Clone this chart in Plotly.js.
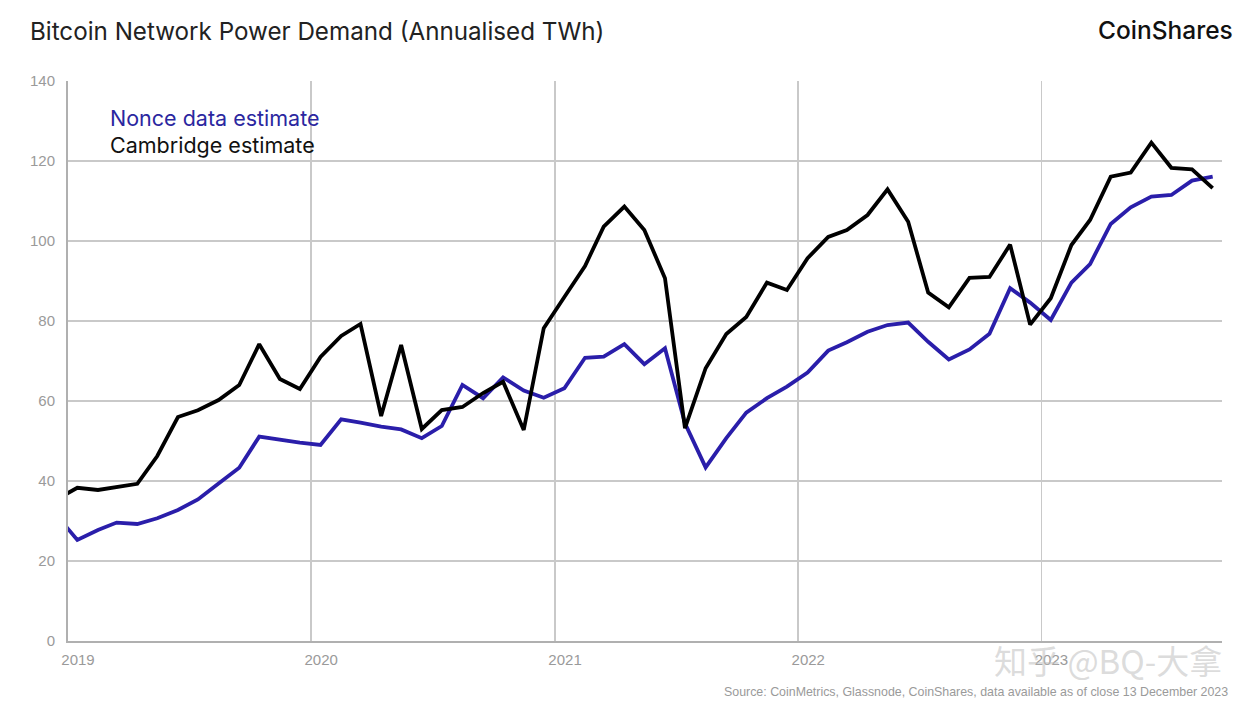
<!DOCTYPE html>
<html>
<head>
<meta charset="utf-8">
<script src="https://cdn.plot.ly/plotly-3.0.1.min.js"></script>
<style>html,body{margin:0;padding:0;background:#fff;}#chart{width:1260px;height:709px;}</style>
</head>
<body>
<div id="chart"></div>
<script>
// Monthly observations (mid-month)
const months = [
  "2018-12",
  "2019-01","2019-02","2019-03","2019-04","2019-05","2019-06","2019-07","2019-08","2019-09","2019-10","2019-11","2019-12",
  "2020-01","2020-02","2020-03","2020-04","2020-05","2020-06","2020-07","2020-08","2020-09","2020-10","2020-11","2020-12",
  "2021-01","2021-02","2021-03","2021-04","2021-05","2021-06","2021-07","2021-08","2021-09","2021-10","2021-11","2021-12",
  "2022-01","2022-02","2022-03","2022-04","2022-05","2022-06","2022-07","2022-08","2022-09","2022-10","2022-11","2022-12",
  "2023-01","2023-02","2023-03","2023-04","2023-05","2023-06","2023-07","2023-08","2023-09"
];
const cambridge = [
  35.4,
  38.3,37.75,38.4,39.3,46.25,56,57.7,60.25,64,74.2,65.5,63,
  71,76.25,79.25,56.25,74,53,57.75,58.5,62,64.8,52.75,78.2,
  86,93.75,103.6,108.6,102.75,90.7,53.2,68.2,76.75,81,89.6,87.75,
  95.7,101,102.75,106.5,112.9,104.8,87.1,83.4,90.8,91,99.1,79.1,
  85.7,99,105.25,116.1,117.1,124.6,118.3,117.9,113.2
];
const nonce = [
  31.4,
  25.25,27.75,29.6,29.25,30.7,32.75,35.4,39.4,43.3,51.1,50.25,49.6,
  49,55.4,54.6,53.6,52.9,50.7,53.75,64,60.7,65.9,62.6,60.8,
  63.2,70.8,71.1,74.2,69.2,73.2,54.4,43.4,50.7,57.1,60.7,63.6,
  67.1,72.6,74.7,77.3,79,79.6,74.8,70.4,72.9,76.8,88.2,84.6,
  80.25,89.6,94.25,104.25,108.4,111.1,111.5,115.1,116.1
];
const yearTicks = ["2019-01-01","2020-01-01","2021-01-01","2022-01-01","2023-01-01"];
const yearLabels = ["2019","2020","2021","2022","2023"];
const yTicks = [0,20,40,60,80,100,120,140];

const dates = months.map(m => m + "-15");

const traces = [
  {x: dates, y: nonce, type: "scatter", mode: "lines", name: "Nonce data estimate",
   line: {color: "#2a1eaa", width: 3.8}},
  {x: dates, y: cambridge, type: "scatter", mode: "lines", name: "Cambridge estimate",
   line: {color: "#000000", width: 3.8}}
];

const layout = {
  width: 1260, height: 709,
  paper_bgcolor: "#ffffff", plot_bgcolor: "#ffffff",
  margin: {l: 68, r: 38, t: 81, b: 68},
  showlegend: false,
  title: {
    text: "Bitcoin Network Power Demand (Annualised TWh)",
    font: {family: "Inter, sans-serif", size: 24.2, color: "#222222"},
    xref: "container", yref: "container", x: 30/1260, xanchor: "left",
    y: 1 - 32/709, yanchor: "middle"
  },
  xaxis: {
    type: "date",
    range: ["2019-01-01", "2023-09-29"],
    tickmode: "array", tickvals: yearTicks, ticktext: yearLabels,
    ticklabelshift: 10, ticklabelstandoff: 4,
    showgrid: true, gridcolor: "#c9c9c9", gridwidth: 1.5,
    showline: true, linecolor: "#b0b0b0", linewidth: 2,
    zeroline: false, ticks: "",
    tickfont: {family: "Liberation Sans, Arial, sans-serif", size: 15, color: "#9a9a9a"},
    fixedrange: true
  },
  yaxis: {
    range: [0, 140],
    tickmode: "array", tickvals: yTicks,
    showgrid: true, gridcolor: "#c9c9c9", gridwidth: 1.5,
    showline: true, linecolor: "#b0b0b0", linewidth: 2,
    zeroline: false, ticks: "", ticklabelstandoff: 8,
    tickfont: {family: "Liberation Sans, Arial, sans-serif", size: 15, color: "#9a9a9a"},
    fixedrange: true
  },
  annotations: [
    {text: "Nonce data estimate", xref: "paper", yref: "paper", x: 40/1154, y: (641-118)/560,
     xanchor: "left", yanchor: "middle", showarrow: false,
     font: {family: "Inter, sans-serif", size: 21.5, color: "#2b27a0"}},
    {text: "Cambridge estimate", xref: "paper", yref: "paper", x: 40/1154, y: (641-145)/560,
     xanchor: "left", yanchor: "middle", showarrow: false,
     font: {family: "Inter, sans-serif", size: 21.5, color: "#111111"}},
    {text: "CoinShares", xref: "paper", yref: "paper", x: (1235-68)/1154, y: (641-30)/560,
     xanchor: "right", yanchor: "middle", showarrow: false,
     font: {family: "Inter, sans-serif", size: 24.5, color: "#111111", weight: 500}},
    {text: "Source: CoinMetrics, Glassnode, CoinShares, data available as of close 13 December 2023",
     xref: "paper", yref: "paper", x: (1230-68)/1154, y: (641-692)/560,
     xanchor: "right", yanchor: "middle", showarrow: false,
     font: {family: "Liberation Sans, Arial, sans-serif", size: 12.4, color: "#9a9a9a"}},
    {text: "知乎 @BQ-大拿", xref: "paper", yref: "paper", x: (1224-68)/1154, y: (641-660)/560,
     xanchor: "right", yanchor: "middle", showarrow: false,
     font: {family: "Noto Sans CJK SC, sans-serif", size: 33, color: "rgba(190,190,190,0.55)"}}
  ]
};

Plotly.newPlot("chart", traces, layout, {staticPlot: true, displayModeBar: false});
</script>
</body>
</html>
